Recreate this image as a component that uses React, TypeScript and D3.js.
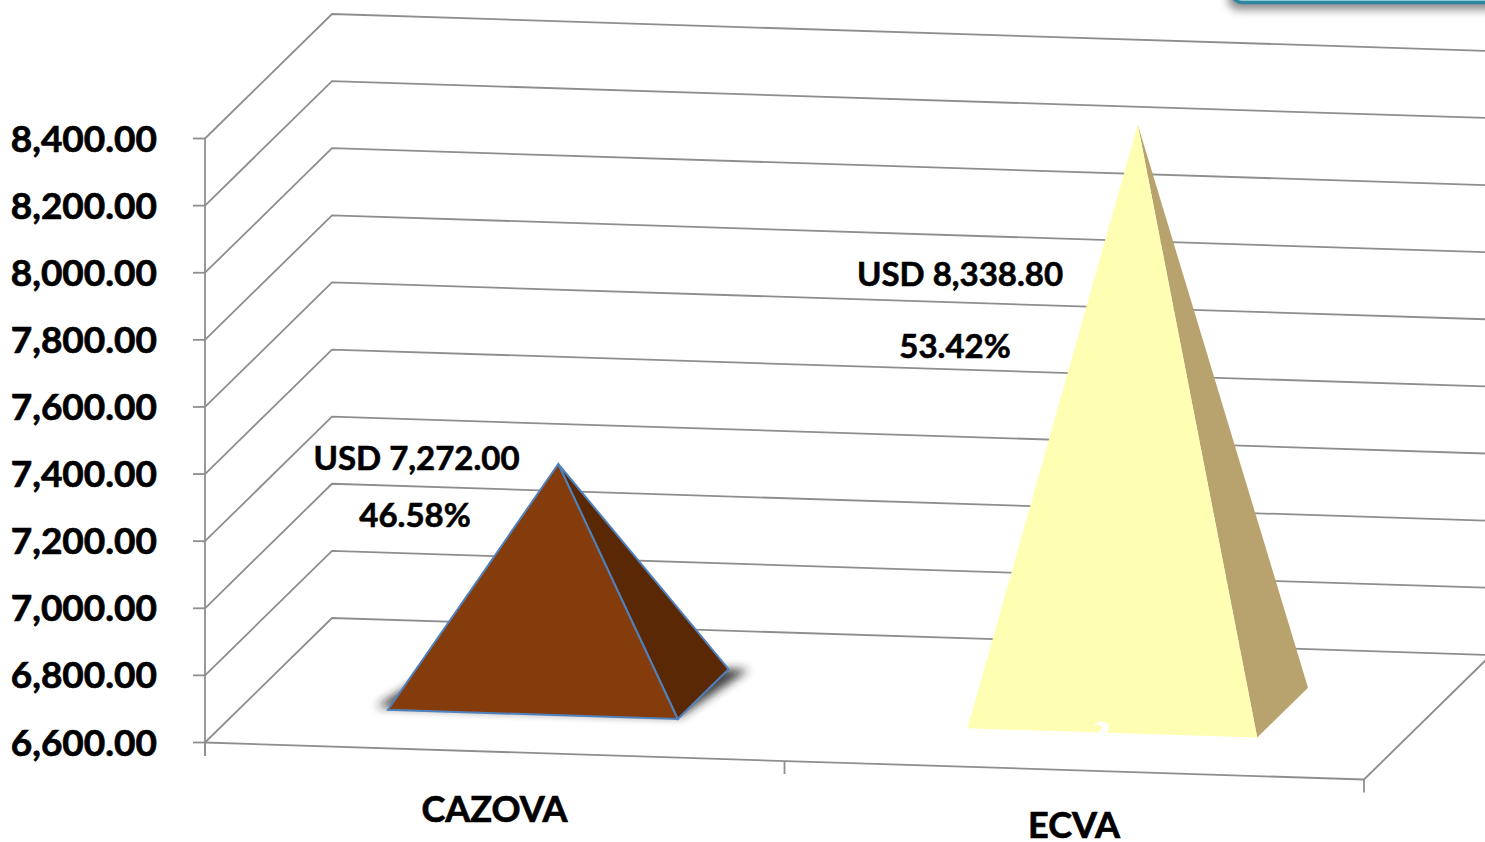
import React from "react";
import * as d3 from "d3";

const categories = ["CAZOVA", "ECVA"];
const values = [7272.0, 8338.8];
const shares = ["46.58%", "53.42%"];
const amounts = ["USD 7,272.00", "USD 8,338.80"];
const yTicks = [6600, 6800, 7000, 7200, 7400, 7600, 7800, 8000, 8200, 8400, 8600, 8800];
const labelledTicks = yTicks.filter((t) => t <= 8400);
const frontFill = ["#843C0C", "#FFFFB3"];
const sideFill = ["#5A2804", "#B8A36F"];

const FONT = "Lato, Carlito, Calibri, sans-serif";
const GRID = "#8e8e8e";
const INK = { stroke: "#000", strokeWidth: 0.7 };

const yScale = d3.scaleLinear().domain([6600, 8400]).range([742.5, 138.5]);
const uScale = d3.scaleLinear().domain([0, 2]).range([0, 1159]);
const depthX = d3.scaleLinear().domain([0, 1]).range([0, 127]);
const depthY = d3.scaleLinear().domain([0, 1]).range([0, -124.5]);
const slope = d3.scaleLinear().domain([0, 2]).range([0, 37]);

const project = (u: number, d: number, v: number): [number, number] => [
  205 + uScale(u) + depthX(d),
  yScale(v) + slope(u) + depthY(d),
];
const line = d3.line();
const base = yTicks[0];

export default function App() {
  const fmt = d3.format(",.2f");
  return (
    <svg
      width={1485}
      height={842}
      style={{ position: "absolute", left: 0, top: 0, background: "#fff", display: "block" }}
    >
      <defs>
        <filter id="soft" x="-20%" y="-30%" width="140%" height="160%">
          <feGaussianBlur stdDeviation="5" />
        </filter>
        <filter id="boxShadow" x="-10%" y="-50%" width="120%" height="250%">
          <feGaussianBlur stdDeviation="4" />
        </filter>
      </defs>

      {/* callout box clipped by the top right corner */}
      <rect x={1228} y={-40} width={300} height={50} rx={10} fill="#444" opacity={0.6} filter="url(#boxShadow)" />
      <rect x={1232} y={-40} width={290} height={42.5} rx={10} fill="#A5DCEA" stroke="#31859C" strokeWidth={3.5} />

      {/* floor */}
      <path
        d={line([project(0, 0, base), project(2, 0, base), project(2, 1, base)]) ?? ""}
        fill="none"
        stroke={GRID}
        strokeWidth={1.8}
      />
      {/* gridlines: side wall + back wall */}
      {yTicks.map((t) => (
        <path
          key={t}
          d={
            line(
              t <= 8400
                ? [project(0, 0, t), project(0, 1, t), project(2, 1, t)]
                : [project(0, 1, t), project(2, 1, t)],
            ) ?? ""
          }
          fill="none"
          stroke={GRID}
          strokeWidth={1.8}
        />
      ))}
      {/* value axis */}
      <path d={`M205,${yScale(8400)}V756`} stroke={GRID} strokeWidth={1.8} fill="none" />
      {labelledTicks.map((t) => (
        <g key={t}>
          <line x1={193} x2={205} y1={yScale(t)} y2={yScale(t)} stroke={GRID} strokeWidth={1.8} />
          <text
            x={157}
            y={yScale(t) + 13}
            textAnchor="end"
            fontFamily={FONT}
            fontWeight={700}
            fontSize={37}
            fill="#000"
            {...INK}
          >
            {fmt(t)}
          </text>
        </g>
      ))}
      {/* category ticks */}
      {[0, 1, 2].map((u) => {
        const [x, y] = project(u, 0, base);
        return <line key={u} x1={x} x2={x} y1={y} y2={y + 13} stroke={GRID} strokeWidth={1.8} />;
      })}

      {/* pyramids */}
      {categories.map((c, i) => {
        const u0 = i + 0.25;
        const u1 = i + 0.75;
        const fl = project(u0, 0.3, base);
        const fr = project(u1, 0.3, base);
        const br = project(u1, 0.7, base);
        const apex = project(i + 0.5, 0.5, values[i]);
        const outline = i === 0 ? "#4F81BD" : "none";
        return (
          <g key={c}>
            {i === 0 && (
              <path
                d={
                  (line([
                    project(i + 0.225, 0.32, base),
                    project(i + 0.75, 0.32, base),
                    project(i + 0.785, 0.7, base),
                    project(i + 0.27, 0.72, base),
                  ]) ?? "") + "Z"
                }
                fill="#222"
                opacity={0.85}
                filter="url(#soft)"
              />
            )}
            <path d={(line([apex, fr, br]) ?? "") + "Z"} fill={sideFill[i]} stroke={outline} strokeWidth={2} />
            <path d={(line([apex, fl, fr]) ?? "") + "Z"} fill={frontFill[i]} stroke={outline} strokeWidth={2} />
          </g>
        );
      })}
      {/* small notch at the foot of the second pyramid */}
      <path d="M1093,726 Q1101,718 1108,724 Q1111,729 1105,734 L1108,736 L1096,736 L1100,731 Q1104,727 1100,725 Q1097,725 1093,726Z" fill="#fff" />

      {/* data labels */}
      {[
        [416.5, 470, 415, 527],
        [960, 286, 955, 358],
      ].map((p, i) => (
        <g key={i} fontFamily={FONT} fontWeight={700} fontSize={33} fill="#000" textAnchor="middle" stroke="#000" strokeWidth={0.6}>
          <text x={p[0]} y={p[1]}>{amounts[i]}</text>
          <text x={p[2]} y={p[3]}>{shares[i]}</text>
        </g>
      ))}

      {/* category labels */}
      <text x={494.5} y={822} textAnchor="middle" fontFamily={FONT} fontWeight={700} fontSize={36} {...INK}>{categories[0]}</text>
      <text x={1074} y={838} textAnchor="middle" fontFamily={FONT} fontWeight={700} fontSize={36} {...INK}>{categories[1]}</text>
    </svg>
  );
}
